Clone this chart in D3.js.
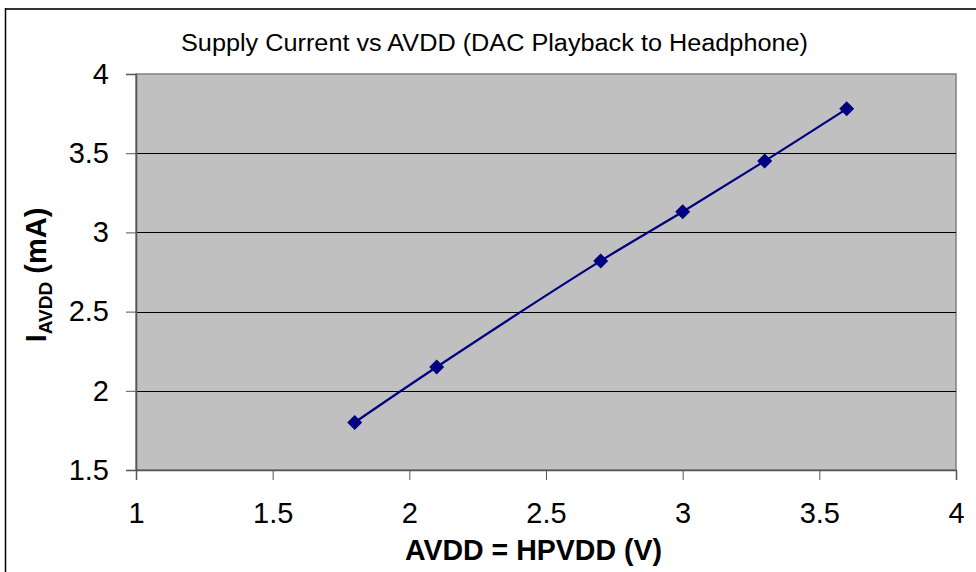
<!DOCTYPE html>
<html><head><meta charset="utf-8">
<script src="https://cdn.jsdelivr.net/npm/d3@7"></script>
<style>html,body{margin:0;padding:0;background:#fff;}svg{display:block;font-family:"Liberation Sans",Arial,sans-serif;}</style>
</head><body>
<svg id="c" width="976" height="572"></svg>
<script>
const voltage = [1.8, 2.1, 2.7, 3.0, 3.3, 3.6];
const current = [1.80, 2.15, 2.82, 3.13, 3.45, 3.78];
const xTicks = [1, 1.5, 2, 2.5, 3, 3.5, 4];
const yTicks = [1.5, 2, 2.5, 3, 3.5, 4];
const titleText = "Supply Current vs AVDD (DAC Playback to Headphone)";
const xTitle = "AVDD = HPVDD (V)";

const svg = d3.select("#c");
const L = 136, R = 956, T = 74, B = 470;
const x = d3.scaleLinear().domain([1, 4]).range([L, R]);
const y = d3.scaleLinear().domain([1.5, 4]).range([B, T]);

// outer frame (top and left only)
svg.append("line").attr("x1",5).attr("x2",976).attr("y1",9).attr("y2",9).attr("stroke","#333").attr("stroke-width",2);
svg.append("line").attr("x1",5.5).attr("x2",5.5).attr("y1",8).attr("y2",572).attr("stroke","#000").attr("stroke-width",1.5);

// plot area
svg.append("rect").attr("x",L).attr("y",T).attr("width",R-L).attr("height",B-T).attr("fill","#c0c0c0").attr("stroke","#808080").attr("stroke-width",1.5);

// gridlines
svg.append("g").selectAll("line").data(yTicks.filter(d=>d>1.5 && d<4)).join("line")
  .attr("x1",L).attr("x2",R).attr("y1",d=>Math.round(y(d))+0.5).attr("y2",d=>Math.round(y(d))+0.5)
  .attr("stroke","#000").attr("stroke-width",1);

// y axis
const yAxis = d3.axisLeft(y).tickValues(yTicks).tickSize(10).tickPadding(17).tickFormat(d3.format("~g"));
const gy = svg.append("g").attr("transform",`translate(${L},0)`).call(yAxis);
gy.select(".domain").attr("stroke","#555").attr("stroke-width",1.5);
gy.selectAll(".tick line").attr("stroke","#555");
gy.selectAll("text").attr("font-size",29).attr("fill","#000").attr("font-family","Liberation Sans, Arial, sans-serif");

// x axis
const xAxis = d3.axisBottom(x).tickValues(xTicks).tickSize(10).tickPadding(22).tickFormat(d3.format("~g"));
const gx = svg.append("g").attr("transform",`translate(0,${B})`).call(xAxis);
gx.select(".domain").attr("stroke","#555").attr("stroke-width",1.5);
gx.selectAll(".tick line").attr("stroke","#555");
gx.selectAll("text").attr("font-size",29).attr("fill","#000").attr("font-family","Liberation Sans, Arial, sans-serif");

// line
const pts = voltage.map((v,i)=>[v,current[i]]);
svg.append("path").datum(pts)
  .attr("d", d3.line().x(d=>x(d[0])).y(d=>y(d[1])).curve(d3.curveCatmullRom.alpha(0.5)))
  .attr("fill","none").attr("stroke","#000080").attr("stroke-width",2.2);

// markers
svg.append("g").selectAll("path").data(pts).join("path")
  .attr("transform",d=>`translate(${x(d[0])},${y(d[1])})`)
  .attr("d","M0,-7.5L7.5,0L0,7.5L-7.5,0Z").attr("fill","#000080");

// title
svg.append("text").attr("x",494.5).attr("y",51).attr("text-anchor","middle")
  .attr("font-size",23).attr("textLength",627).attr("lengthAdjust","spacingAndGlyphs").text(titleText);

// x title
svg.append("text").attr("x",533.5).attr("y",560).attr("text-anchor","middle")
  .attr("font-size",29).attr("font-weight","bold").attr("textLength",257).attr("lengthAdjust","spacingAndGlyphs").text(xTitle);

// y title
const yt = svg.append("text").attr("transform","translate(46,275) rotate(-90)").attr("text-anchor","middle")
  .attr("font-size",29).attr("font-weight","bold");
yt.append("tspan").text("I");
yt.append("tspan").attr("font-size",19).attr("dy",6).text("AVDD");
yt.append("tspan").attr("dy",-6).text(" (mA)");
</script>
</body></html>
